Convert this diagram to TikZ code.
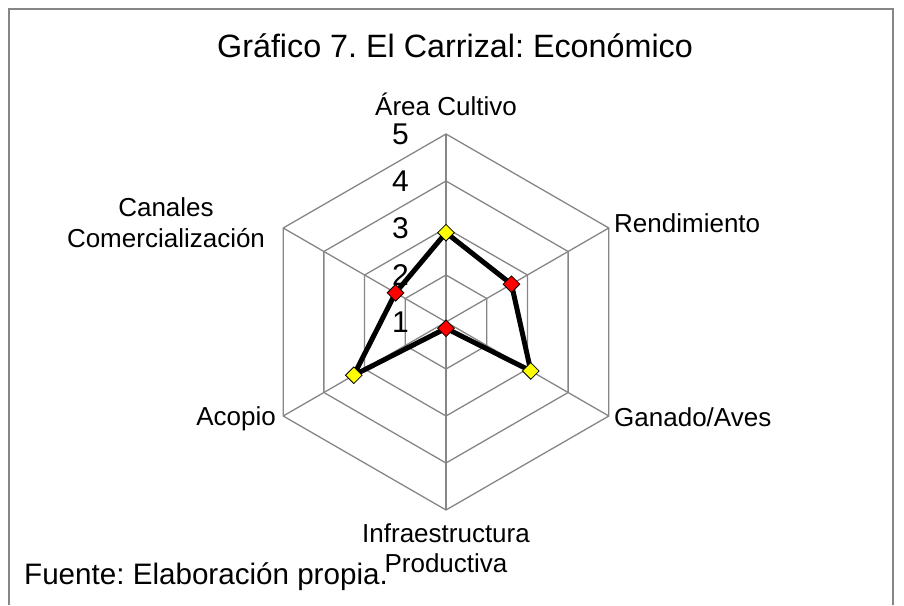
\documentclass[tikz,border=0pt]{standalone}
\usepackage{fontspec}
\setmainfont{Liberation Sans}
\frenchspacing
\usetikzlibrary{shapes.geometric}
\definecolor{gridgray}{RGB}{134,134,134}
\definecolor{markyellow}{RGB}{255,255,0}
\definecolor{markred}{RGB}{255,0,0}
\begin{document}
\begin{tikzpicture}
[x=1pt,y=1pt,
  griddecorate/.style={draw=gridgray,line width=1.3pt},
  framedecorate/.style={draw=gridgray,line width=1.6pt},
  seriesdecorate/.style={draw=black,line width=5pt,line join=round},
  yellowmark/.style={shape=diamond,draw=black,line width=0.8pt,fill=markyellow,inner sep=0pt,minimum size=17pt},
  redmark/.style={shape=diamond,draw=black,line width=0.8pt,fill=markred,inner sep=0pt,minimum size=17pt},
  catlabel/.style={font=\fontsize{26}{31}\selectfont,inner sep=0pt},
  ticklabel/.style={font=\fontsize{30}{36}\selectfont,inner sep=0pt,anchor=base east}]
\useasboundingbox (0,0) rectangle (904,605);
% frame
\draw[framedecorate] (9,0) -- (9,596) -- (893,596) -- (893,0);
% chart
\begin{scope}[shift={(446,283)}]
\coordinate (c) at (0,0);
\coordinate (axA) at (90:188);
\coordinate (axR) at (30:188);
\coordinate (axG) at (-30:188);
\coordinate (axI) at (-90:188);
\coordinate (axC) at (-150:188);
\coordinate (axK) at (150:188);
% rings
\draw[griddecorate] (90:47) -- (30:47) -- (-30:47) -- (-90:47) -- (-150:47) -- (150:47) -- cycle;
\draw[griddecorate] (90:94) -- (30:94) -- (-30:94) -- (-90:94) -- (-150:94) -- (150:94) -- cycle;
\draw[griddecorate] (90:141) -- (30:141) -- (-30:141) -- (-90:141) -- (-150:141) -- (150:141) -- cycle;
\draw[griddecorate] (axA) -- (axR) -- (axG) -- (axI) -- (axC) -- (axK) -- cycle;
% spokes
\draw[griddecorate] (c) -- (axA);
\draw[griddecorate] (c) -- (axR);
\draw[griddecorate] (c) -- (axG);
\draw[griddecorate] (c) -- (axI);
\draw[griddecorate] (c) -- (axC);
\draw[griddecorate] (c) -- (axK);
% scale
\node[ticklabel] (t1) at (-37,-11) {1};
\node[ticklabel] (t2) at (-37,36) {2};
\node[ticklabel] (t3) at (-37,83) {3};
\node[ticklabel] (t4) at (-37,130) {4};
\node[ticklabel] (t5) at (-37,177) {5};
% data
\coordinate (pA) at (90:89.3);
\coordinate (pR) at (30:75.6);
\coordinate (pG) at (-30:97.9);
\coordinate (pI) at (-90:6.3);
\coordinate (pC) at (-150:106.5);
\coordinate (pK) at (150:58.3);
\draw[seriesdecorate] (pA) -- (pR) -- (pG) -- (pI) -- (pC) -- (pK) -- cycle;
\node (mA) at (pA) [yellowmark] {};
\node (mR) at (pR) [redmark] {};
\node (mG) at (pG) [yellowmark] {};
\node (mI) at (pI) [redmark] {};
\node (mC) at (pC) [yellowmark] {};
\node (mK) at (pK) [redmark] {};
\end{scope}
% texts
\node (title) at (455,547) [anchor=base,inner sep=0pt,font=\fontsize{32.3}{39}\selectfont] {Gráfico 7. El Carrizal: Económico};
\node (lA) at (446,489) [catlabel,anchor=base] {Área Cultivo};
\node (lR) at (614,372) [catlabel,anchor=base west] {Rendimiento};
\node (lG) at (614,178) [catlabel,anchor=base west] {Ganado/Aves};
\node (lI1) at (446,63) [catlabel,anchor=base] {Infraestructura};
\node (lI2) at (446,33) [catlabel,anchor=base] {Productiva};
\node (lC) at (276,179) [catlabel,anchor=base east] {Acopio};
\node (lK1) at (166,388) [catlabel,anchor=base] {Canales};
\node (lK2) at (166,357) [catlabel,anchor=base] {Comercialización};
\node (src) at (24,21) [anchor=base west,inner sep=0pt,font=\fontsize{29.6}{36}\selectfont] {Fuente: Elaboración propia.};
\end{tikzpicture}
\end{document}
